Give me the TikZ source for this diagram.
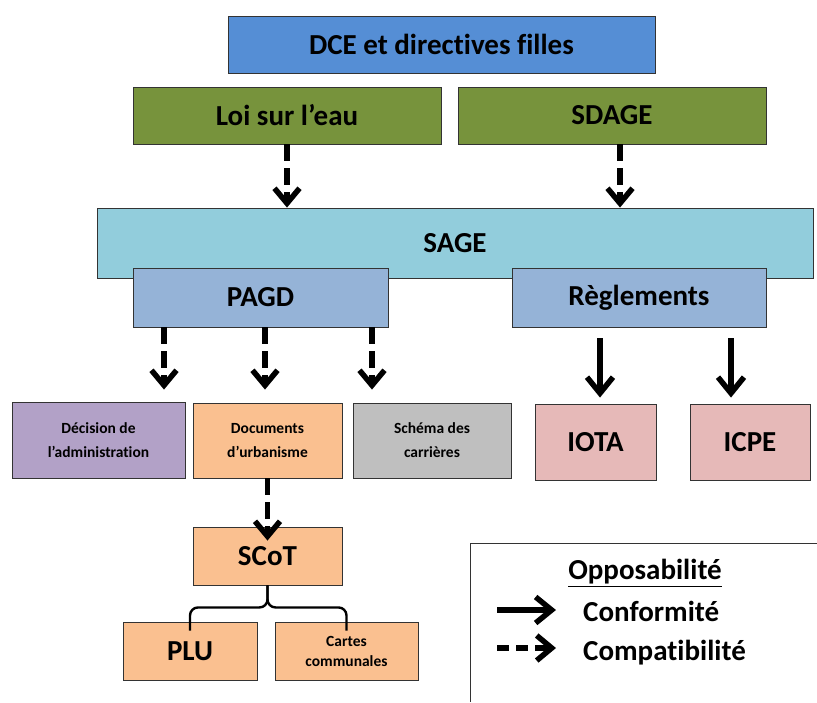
\documentclass[tikz,border=0pt]{standalone}
\usepackage{fontspec}
\setmainfont{Carlito}[Ligatures=NoCommon]
\usetikzlibrary{arrows.meta}

\definecolor{dceblue}{HTML}{558ED5}
\definecolor{loigreen}{HTML}{77933C}
\definecolor{sagecyan}{HTML}{92CDDC}
\definecolor{pagdblue}{HTML}{95B3D7}
\definecolor{decpurple}{HTML}{B2A1C7}
\definecolor{urborange}{HTML}{FAC090}
\definecolor{cargray}{HTML}{BFBFBF}
\definecolor{iotapink}{HTML}{E6B9B8}

\tikzset{
  box/.style={draw=black!80,line width=0.9pt,inner sep=0pt,align=center,
    font=\fontsize{29}{33}\selectfont\bfseries},
  small/.style={font=\fontsize{15.5}{24}\selectfont\bfseries},
  legend/.style={inner sep=0pt,font=\fontsize{29}{33}\selectfont\bfseries},
  compat/.style={line width=5.5pt,dash pattern=on 17pt off 7pt,
    -{Straight Barb[length=15pt,width=25pt]}},
  conform/.style={line width=5.5pt,-{Straight Barb[length=16pt,width=26pt]}},
  brace/.style={line width=2.4pt,rounded corners=8pt}
}

\begin{document}
\begin{tikzpicture}[x=1pt,y=-1pt]
\useasboundingbox (0,0) rectangle (817,702);
% textes de cadrage
\node[box,fill=dceblue,minimum width=427,minimum height=57] (dce) at (441.5,44.5) {DCE et directives filles};
\node[box,fill=loigreen,minimum width=308,minimum height=57] (loi) at (287,115.5) {Loi sur l’eau};
\node[box,fill=loigreen,minimum width=308,minimum height=57] (sdage) at (612,115.5) {SDAGE};
% le SAGE et ses deux documents
\node[box,fill=sagecyan,minimum width=716,minimum height=70] (sage) at (455,243) {SAGE};
\node[box,fill=pagdblue,minimum width=255,minimum height=59] (pagd) at (260.5,297.5) {PAGD};
\node[box,fill=pagdblue,minimum width=254,minimum height=59] (regl) at (639,297.5) {Règlements};
% documents soumis
\node[box,small,fill=decpurple,minimum width=173,minimum height=76] (decision) at (98.5,440) {Décision de\\l’administration};
\node[box,small,fill=urborange,minimum width=149,minimum height=75] (docs) at (267.5,440.5) {Documents\\d’urbanisme};
\node[box,small,fill=cargray,minimum width=158,minimum height=75] (schema) at (432,440.5) {Schéma des\\carrières};
\node[box,fill=iotapink,minimum width=121,minimum height=76] (iota) at (595.5,442) {IOTA};
\node[box,fill=iotapink,minimum width=120,minimum height=76] (icpe) at (750,442) {ICPE};
\node[box,fill=urborange,minimum width=149,minimum height=58] (scot) at (267.5,556) {SCoT};
\node[box,fill=urborange,minimum width=134,minimum height=58] (plu) at (190,651) {PLU};
\node[box,small,font=\fontsize{15.5}{20}\selectfont\bfseries,fill=urborange,minimum width=143,minimum height=58] (cartes) at (346.5,651) {Cartes\\communales};

% fleches
\coordinate (rowtop) at ([yshift=12]decision.north);
\coordinate (iotatop) at ([yshift=6]iota.north);
\draw[compat] (loi.south) -- (loi.south |- sage.north);
\draw[compat] ([xshift=8]sdage.south) -- ([xshift=8]sdage.south |- sage.north);
\foreach \dx in {-96.5,4.5,111.5}
  \draw[compat] ([xshift=\dx]pagd.south) -- ([xshift=\dx]pagd.south |- rowtop);
\foreach \dx in {-39,92}
  \draw[conform] ([xshift=\dx,yshift=-11]regl.south) -- ([xshift=\dx]regl.south |- iotatop);
\draw[compat] (docs.south) -- ([yshift=-14]scot.north);

% accolade sous le SCoT
\coordinate (bt) at ([yshift=-22]scot.south);
\draw[brace] ([yshift=-9]plu.north) |- (bt) -- (scot.south);
\draw[brace] ([yshift=-9]cartes.north) |- (bt) -- (scot.south);

% legende
\draw[line width=1pt,black!80] (817,543) -- (470,543) -- (470,702);
\node[legend] (opp) at (645,573) {\underline{Opposabilité}};
\node[legend,anchor=west] (conf) at (583,611) {Conformité};
\node[legend,anchor=west] (comp) at (583,653) {Compatibilité};
\coordinate (c1) at (497,610);
\coordinate (c2) at (497,648);
\draw[conform] (c1) -- ([xshift=-27]conf.west |- c1);
\draw[compat,dash pattern=on 12pt off 7pt] (c2) -- ([xshift=-27]comp.west |- c2);
\end{tikzpicture}
\end{document}
